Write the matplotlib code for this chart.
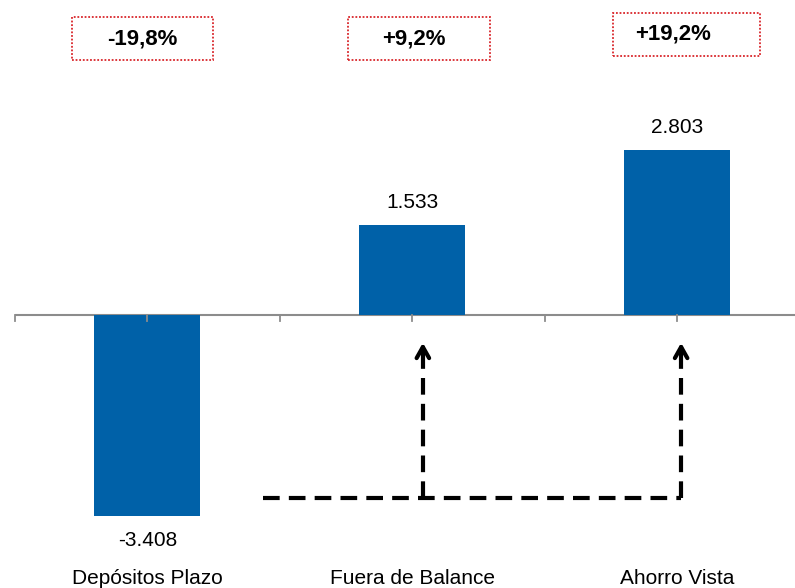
import matplotlib
matplotlib.use("Agg")
import matplotlib.pyplot as plt
from matplotlib.patches import Rectangle
import numpy as np

categories = ["Depósitos Plazo", "Fuera de Balance", "Ahorro Vista"]
values = [-3408, 1533, 2803]
value_labels = ["-3.408", "1.533", "2.803"]
pct_labels = ["-19,8%", "+9,2%", "+19,2%"]

plt.rcParams['font.family'] = ['Liberation Sans', 'DejaVu Sans']

fig = plt.figure(figsize=(7.95, 5.88), dpi=100)
ax = fig.add_axes([15/795, 0, 780/795, 1])
x = np.arange(len(categories))
ax.bar(x, values, width=0.4, color="#0061A8", zorder=2)
ax.set_xlim(-0.5, 2.445)
ax.set_ylim(-4635, 5348)
for s in ax.spines.values():
    s.set_visible(False)
ax.axhline(0, color="#8c8c8c", lw=1.5, zorder=1)
ax.set_yticks([])
ax.set_xticks([])
# tick marks at category centers and boundaries
for t in np.arange(-0.5, 2.6, 0.5):
    ax.plot([t, t], [0, -110], color="#8c8c8c", lw=1.3, zorder=3, clip_on=False)

# value labels
for xi, v, lab in zip(x, values, value_labels):
    if v >= 0:
        ax.text(xi, v + 220, lab, ha="center", va="bottom", fontsize=15)
    else:
        ax.text(xi, v - 260, lab, ha="center", va="top", fontsize=15)

# category labels at bottom
for xi, c in zip(x, categories):
    ax.text(xi, 0.016, c, transform=ax.get_xaxis_transform(), ha="center",
            va="center", fontsize=15)

# percentage boxes
tr = ax.get_xaxis_transform()
box_cx = [-0.019, 1.026, 2.036]
box_w = [0.53, 0.536, 0.555]
box_y0 = [0.898, 0.898, 0.905]
txt_dx = [0.0, -0.02, -0.05]
for xi, p, cx, w, y0, dx in zip(x, pct_labels, box_cx, box_w, box_y0, txt_dx):
    ax.add_patch(Rectangle((cx - w / 2, y0), w, 0.073, transform=tr, fill=False,
                           ec="#d9262b", ls=(0, (1, 1)), lw=1.3, clip_on=False))
    ax.text(cx + dx, y0 + 0.0365, p, transform=tr, ha="center", va="center",
            fontsize=16, fontweight="bold")

# dashed arrows
dash = (0, (4, 2.2))
y_low = -3107
y_top = -424
ax.plot([0.435, 2.015], [y_low, y_low], color="black", lw=3, ls=dash, zorder=3)
for xa in [1.04, 2.015]:
    ax.plot([xa, xa], [y_low, y_top - 150], color="black", lw=3, ls=dash, zorder=3)
    ax.annotate("", xy=(xa, y_top), xytext=(xa, y_top - 300),
                arrowprops=dict(arrowstyle="->,head_length=0.8,head_width=0.45",
                                color="black", lw=3))

fig.savefig("out.png", dpi=100)
